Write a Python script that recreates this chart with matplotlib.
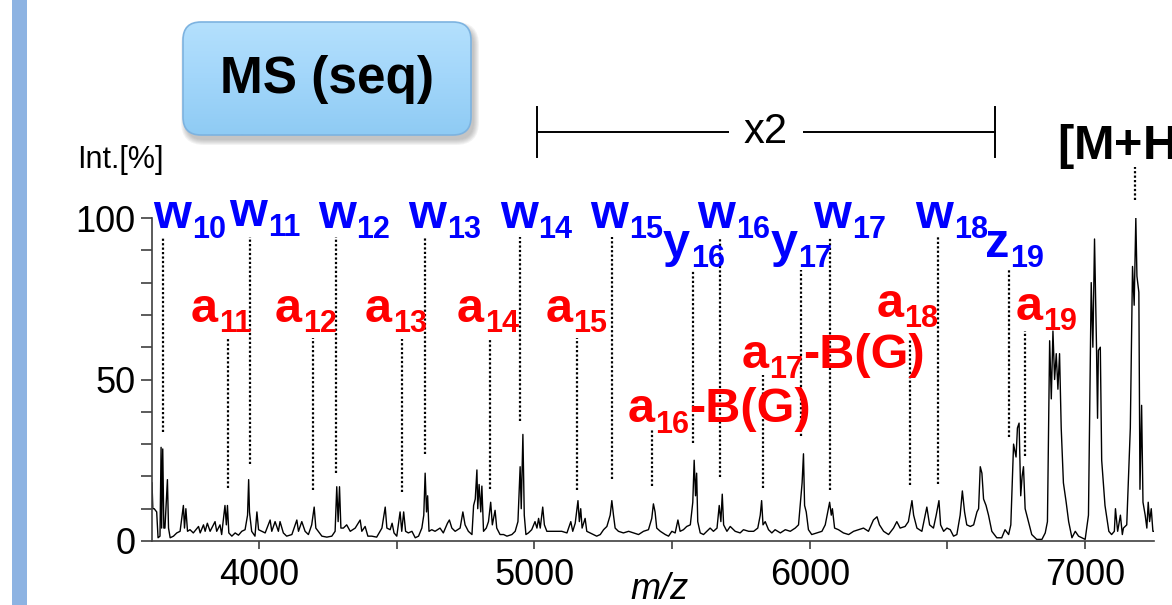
import matplotlib
matplotlib.use("Agg")
import matplotlib.pyplot as plt
import numpy as np
from matplotlib.patches import Rectangle, FancyBboxPatch
from matplotlib.colors import LinearSegmentedColormap

plt.rcParams['font.family'] = ['Liberation Sans', 'DejaVu Sans']

# spectrum (m/z, Int.[%])
spec_mz = [3611, 3614, 3619, 3628, 3633, 3640, 3644, 3646, 3650, 3654, 3658, 3667, 3671, 3677,
           3689, 3701, 3713, 3725, 3729, 3734, 3740, 3749, 3761, 3780, 3786, 3798, 3804, 3812,
           3822, 3840, 3846, 3858, 3864, 3876, 3881, 3885, 3890, 3901, 3913, 3925, 3937, 3949,
           3958, 3962, 3965, 3973, 3985, 3992, 3998, 4010, 4022, 4040, 4046, 4058, 4070, 4076,
           4088, 4100, 4119, 4137, 4143, 4155, 4167, 4179, 4191, 4200, 4206, 4215, 4228, 4246,
           4264, 4276, 4282, 4287, 4292, 4297, 4306, 4318, 4331, 4349, 4367, 4373, 4385, 4395,
           4409, 4427, 4446, 4458, 4464, 4476, 4483, 4490, 4500, 4512, 4518, 4525, 4532, 4542,
           4555, 4567, 4579, 4591, 4598, 4603, 4608, 4612, 4617, 4627, 4639, 4657, 4669, 4684,
           4691, 4700, 4712, 4730, 4740, 4748, 4760, 4773, 4779, 4785, 4791, 4794, 4799, 4805,
           4809, 4815, 4825, 4833, 4841, 4847, 4857, 4863, 4875, 4888, 4900, 4918, 4930, 4940,
           4948, 4952, 4958, 4963, 4969, 4978, 4990, 5002, 5009, 5015, 5021, 5030, 5036, 5045,
           5063, 5081, 5099, 5118, 5132, 5139, 5148, 5158, 5163, 5168, 5173, 5184, 5190, 5202,
           5214, 5226, 5239, 5251, 5263, 5275, 5281, 5287, 5293, 5305, 5323, 5342, 5360, 5378,
           5396, 5414, 5426, 5432, 5438, 5444, 5457, 5475, 5487, 5499, 5511, 5521, 5529, 5541,
           5553, 5566, 5575, 5580, 5585, 5589, 5593, 5602, 5614, 5626, 5638, 5650, 5663, 5671,
           5677, 5682, 5687, 5699, 5711, 5729, 5747, 5759, 5778, 5796, 5811, 5820, 5825, 5830,
           5838, 5850, 5862, 5874, 5893, 5911, 5929, 5947, 5959, 5967, 5972, 5977, 5981, 5987,
           5995, 6007, 6026, 6044, 6056, 6072, 6078, 6082, 6090, 6104, 6122, 6141, 6159, 6177,
           6195, 6213, 6231, 6244, 6253, 6268, 6286, 6304, 6316, 6328, 6346, 6358, 6371, 6377,
           6383, 6389, 6407, 6425, 6435, 6449, 6459, 6469, 6475, 6486, 6498, 6510, 6522, 6534,
           6546, 6554, 6562, 6570, 6583, 6595, 6607, 6613, 6619, 6625, 6631, 6640, 6649, 6661,
           6679, 6697, 6709, 6722, 6730, 6740, 6749, 6754, 6760, 6766, 6771, 6776, 6782, 6794,
           6806, 6824, 6843, 6855, 6863, 6871, 6877, 6883, 6889, 6895, 6901, 6907, 6913, 6921,
           6931, 6940, 6952, 6964, 6976, 6988, 7000, 7012, 7022, 7028, 7034, 7041, 7045, 7048,
           7055, 7060, 7072, 7086, 7096, 7106, 7110, 7118, 7128, 7135, 7139, 7151, 7164, 7172,
           7178, 7184, 7188, 7195, 7199, 7205, 7210, 7218, 7224, 7229, 7234, 7240, 7246, 7250]
spec_int = [18, 10, 10, 9, 1, 1.5, 29, 4, 28.5, 4, 4, 19, 4, 1,
            1.5, 2.5, 3, 11, 4, 10, 3, 3.5, 2.5, 4.5, 2.5, 5, 3, 5.5,
            3, 6, 3, 5, 2, 11, 5, 11, 2.5, 1.5, 2.5, 1.8, 3, 3.5,
            8, 19, 9, 3, 1.5, 9, 3.5, 3, 2.5, 6.5, 3, 6, 3, 6,
            2.5, 1.5, 2, 6.5, 3, 6, 3, 2, 5, 10.5, 4, 3, 1.5, 1.2,
            1.5, 3, 16.8, 6, 16.8, 4, 4, 5, 3, 4, 6.5, 3, 4.5, 1.5,
            1.5, 1.2, 4, 10.5, 4, 3.5, 5.5, 2.5, 1.5, 9, 3, 9, 3, 2.5,
            3, 1, 1.5, 4, 8, 21, 9, 14, 3, 3.5, 3, 4, 2.5, 5.5,
            6.5, 4, 3, 4, 9, 5, 3, 2, 11, 13, 22, 10, 17.5, 9,
            17, 3, 4, 6, 12, 5, 9.5, 4, 2, 2, 1.5, 2, 3, 6,
            23, 10, 33, 8, 2, 2.5, 3.5, 6, 4, 7, 4, 10.5, 5, 3,
            3, 3, 3, 2.5, 6, 3, 5.5, 12.5, 6, 10, 4, 7, 3, 2.5,
            2, 1.5, 2, 3.5, 4.5, 8, 12.5, 8, 4, 3, 2.5, 3, 2.5, 2,
            3, 3.5, 7, 11.5, 9, 4, 3, 2, 1.5, 3, 2.5, 6.5, 3, 3.5,
            4.5, 5, 12, 25, 14, 21, 6, 2.5, 2, 3, 4, 3, 4, 11,
            6, 14.5, 5, 3, 4.5, 3, 2.5, 3.5, 3, 3, 4, 8, 12.5, 5,
            6, 3.5, 2.5, 3.5, 2.5, 3.5, 3, 4, 5, 13, 18, 27, 11, 9,
            3.5, 2, 2.5, 3, 5, 12, 8, 10, 4, 3.5, 2.5, 2, 3, 3.5,
            4, 3, 6.5, 7.5, 5, 3, 2, 4, 6, 4, 4.5, 6, 12.5, 8,
            6, 4, 3, 10.5, 5, 4, 8, 12.5, 5, 3, 4, 3.5, 1.5, 2,
            8, 15.5, 9, 5, 4.5, 5, 9, 10, 23, 21, 13, 11, 8, 3,
            1, 1, 3.5, 2, 5, 30, 26, 35, 36.5, 14, 20, 23, 10, 6,
            2, 0.5, 0.5, 2.5, 6, 62, 44, 65, 50, 58, 47, 58, 35, 18,
            12, 6, 1, 3, 1.5, 1, 0.5, 8, 80, 60, 93.5, 61, 38, 59,
            60, 25, 11, 3, 2, 3, 10, 3, 8, 2, 4, 5, 35, 85,
            73, 100, 82, 77, 16, 42, 12, 8, 4, 12, 6, 10, 3, 3]

# assigned fragments: blue (w, y, z) and red (a)
blue_names = ['w', 'w', 'w', 'w', 'w', 'w', 'y', 'w', 'y', 'w', 'w', 'z']
blue_nums = ['10', '11', '12', '13', '14', '15', '16', '16', '17', '17', '18', '19']
blue_mz = [3651, 3967, 4280, 4603, 4948, 5282, 5576, 5674, 5969, 6074, 6466, 6724]
blue_peak = [33.7, 23.8, 21, 27, 37, 19.2, 30.3, 19.8, 32.5, 15.8, 17.6, 32.2]

red_nums = ['11', '12', '13', '14', '15', '16', '17', '18', '19']
red_suffix = ['', '', '', '', '', '-B(G)', '-B(G)', '', '']
red_mz = [3887, 4196, 4519, 4839, 5155, 5427, 5831, 6364, 6782]
red_peak = [16.4, 15.8, 15.2, 16.1, 15.8, 17, 16.4, 17.3, 26.3]

mh_mz = 7182

# layout (label anchors, line tops)
blue_top = [94, 94, 94, 94, 94, 94, 84, 94, 84, 94, 94, 84]
blue_tx = [3615, 3891, 4214, 4541, 4875, 5202, 5467, 5591, 5856, 6012, 6383, 6637]
blue_ty = [97, 97.5, 97, 97, 97, 97, 88, 97, 88, 97, 97, 88]
red_top = [62.5, 63, 62.5, 62.5, 63, 34.5, 51.5, 62.5, 65]
red_tx = [3753, 4058, 4385, 4719, 5039, 5337, 5751, 6241, 6746]
red_ty = [67.8, 67.8, 67.8, 67.8, 67.8, 36.8, 53.6, 69.5, 68.4]

fig = plt.figure(figsize=(11.72, 6.05), dpi=100)

# decoration layer in pixel units
ax0 = fig.add_axes([0, 0, 1, 1])
ax0.axis('off')
ax0.add_patch(Rectangle((12, 0), 15, 605, color='#8db3e2', lw=0))

for i in range(6):
    ax0.add_patch(FancyBboxPatch((186 - i, 27 - i), 288 + 2 * i, 113 + 2 * i,
                                 boxstyle='round,pad=0,rounding_size=%d' % (18 + i),
                                 fc='#606060', ec='none', alpha=0.07))
box = FancyBboxPatch((183, 22), 288, 113, boxstyle='round,pad=0,rounding_size=18',
                     fc='none', ec='#7db3e0', lw=1.2, zorder=3)
ax0.add_patch(box)
grad = np.linspace(0, 1, 100).reshape(-1, 1)
cmap = LinearSegmentedColormap.from_list('box', ['#b4e0fd', '#a2d6fa', '#8fcbf4'])
img = ax0.imshow(grad, extent=[183, 471, 135, 22], cmap=cmap, aspect='auto', zorder=2)
img.set_clip_path(box)
ax0.text(327, 80, 'MS (seq)', ha='center', va='center', fontsize=37, fontweight='bold', zorder=4)
ax0.text(77, 168, 'Int.[%]', fontsize=22, va='baseline')
ax0.set_xlim(0, 1172)
ax0.set_ylim(605, 0)

# spectrum
ax = fig.add_axes([152 / 1172, 1 - 541 / 605, (1154 - 152) / 1172, (541 - 218) / 605])
ax.patch.set_alpha(0)
ax.plot(spec_mz, spec_int, color='black', lw=1.0)
ax.set_xlim(3611, 7250)
ax.set_ylim(0, 100)

for s in ['top', 'right']:
    ax.spines[s].set_visible(False)
for s in ['left', 'bottom']:
    ax.spines[s].set_color('#404040')
    ax.spines[s].set_linewidth(1.2)

ax.set_yticks([0, 50, 100])
ax.set_yticks(np.arange(0, 101, 10), minor=True)
ax.set_xticks([4000, 5000, 6000, 7000])
ax.set_xticks([4500, 5500, 6500], minor=True)
ax.tick_params(axis='y', which='both', direction='out', length=8, width=1.2, color='#404040',
               labelsize=26, pad=4)
ax.tick_params(axis='x', which='both', direction='out', length=6, width=1.2, color='#404040',
               labelsize=26, pad=6)

ax.text(5456, -18, 'm/z', fontsize=26, style='italic', ha='center', va='baseline')


def ion_label(x, y, letter, num, color, suffix=''):
    # letter, dropped subscript, optional suffix on the main baseline
    t = ax.text(x, y, letter, color=color, fontsize=35, fontweight='bold',
                ha='left', va='baseline', clip_on=False)
    s = ax.annotate(num, xy=(1, y), xycoords=(t, 'data'), xytext=(0.5, -7.5),
                    textcoords='offset points', color=color, fontsize=22, fontweight='bold',
                    ha='left', va='baseline', annotation_clip=False)
    if suffix:
        ax.annotate(suffix, xy=(1, y), xycoords=(s, 'data'), xytext=(0, 0),
                    textcoords='offset points', color=color, fontsize=35, fontweight='bold',
                    ha='left', va='baseline', annotation_clip=False)


# fragment marks
dots = (0, (1, 1))
for name, num, x, top, pk, tx, ty in zip(blue_names, blue_nums, blue_mz, blue_top, blue_peak,
                                         blue_tx, blue_ty):
    ax.plot([x, x], [pk, top], color='black', lw=1.6, ls=dots, clip_on=False)
    ion_label(tx, ty, name, num, '#0000ff')

for num, suf, x, top, pk, tx, ty in zip(red_nums, red_suffix, red_mz, red_top, red_peak,
                                        red_tx, red_ty):
    ax.plot([x, x], [pk, top], color='black', lw=1.6, ls=dots, clip_on=False)
    ion_label(tx, ty, 'a', num, '#ff0000', suf)

ax.plot([mh_mz, mh_mz], [105.5, 115.8], color='black', lw=1.6, ls=dots, clip_on=False)
ax.text(6898, 118, r'[M+H]$^+$', fontsize=35, fontweight='bold', ha='left',
        va='baseline', clip_on=False)

# x2 zoom bracket
ax.plot([5010, 6673], [126.6, 126.6], color='black', lw=1.4, clip_on=False)
ax.plot([5010, 5010], [119, 134.4], color='black', lw=1.4, clip_on=False)
ax.plot([6673, 6673], [119, 134.4], color='black', lw=1.4, clip_on=False)
ax.text(5841, 126.6, 'x2', fontsize=30, ha='center', va='center', clip_on=False,
        bbox=dict(boxstyle='square,pad=0.35', fc='white', ec='none'))

fig.savefig('out.png', dpi=100)
